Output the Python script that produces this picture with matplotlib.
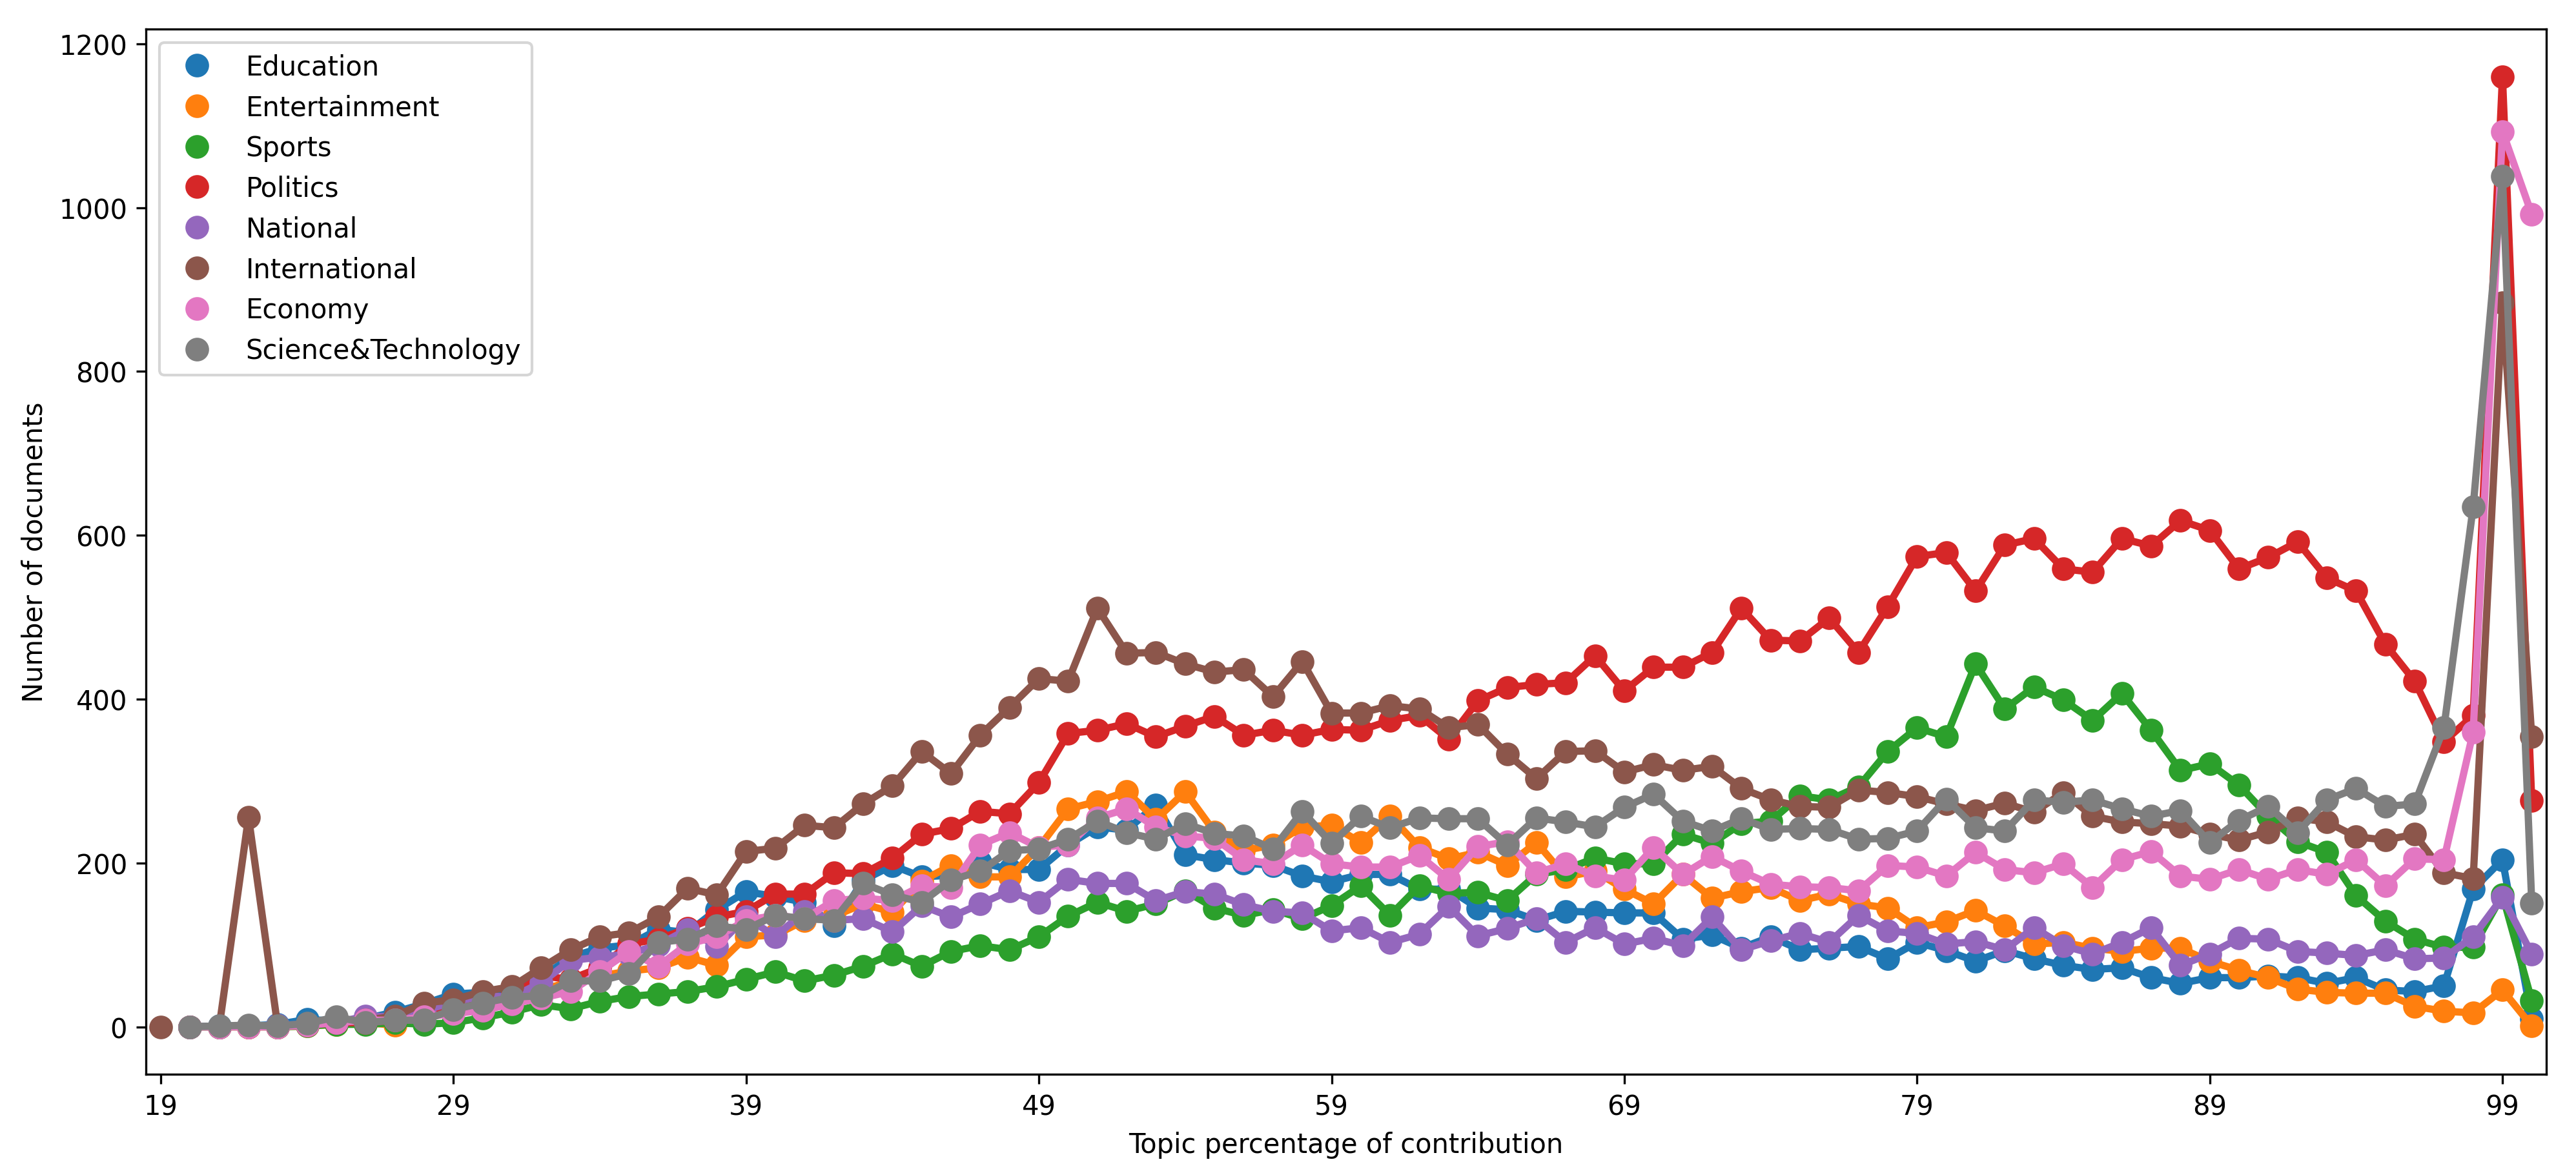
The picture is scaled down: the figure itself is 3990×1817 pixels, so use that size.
import numpy as np
import matplotlib
matplotlib.use("Agg")
import matplotlib.pyplot as plt

nan = np.nan

# topic percentage of contribution, 19 .. 100
percent = list(range(19, 101))

education = [nan, 0, 1, 1, 3, 9, 7, 10, 18, 28,
             40, 42, 45, 60, 85, 96, 100, 119, 115, 143,
             165, 159, 152, 123, 179, 197, 183, 185, 201, 192,
             192, 222, 244, 240, 271, 210, 204, 200, 197, 184,
             177, 186, 186, 168, 168, 145, 143, 130, 141, 140,
             139, 139, 107, 112, 96, 110, 94, 96, 98, 83,
             103, 93, 80, 93, 83, 75, 70, 72, 60, 53,
             60, 60, 62, 60, 53, 60, 45, 43, 50, 168,
             204, 10]
entertainment = [nan, 0, 0, 0, 0, 1, 3, 5, 2, 10,
                 20, 25, 35, 45, 55, 62, 68, 72, 85, 75,
                 110, 112, 130, 135, 150, 140, 178, 197, 183, 183,
                 219, 266, 275, 287, 253, 287, 238, 215, 222, 244,
                 246, 225, 257, 219, 205, 213, 197, 225, 183, 190,
                 168, 150, 186, 157, 165, 170, 154, 162, 150, 145,
                 121, 128, 142, 123, 101, 103, 96, 92, 96, 96,
                 80, 69, 60, 46, 42, 41, 41, 25, 19, 17,
                 45, 1]
sports = [nan, 0, 0, 0, 0, 1, 3, 3, 5, 3,
          5, 11, 18, 27, 22, 31, 37, 40, 43, 49,
          58, 67, 56, 63, 74, 89, 74, 92, 99, 94,
          110, 135, 152, 141, 150, 166, 145, 136, 143, 132,
          148, 172, 136, 172, 163, 164, 154, 186, 192, 206,
          199, 199, 235, 224, 248, 251, 282, 277, 293, 336,
          365, 354, 443, 388, 415, 399, 374, 407, 362, 313,
          321, 295, 257, 226, 213, 160, 129, 107, 97, 97,
          161, 32]
politics = [nan, 0, 0, 0, 0, 2, 5, 5, 8, 15,
            27, 32, 38, 62, 58, 72, 101, 107, 120, 134,
            141, 162, 162, 188, 187, 206, 235, 242, 263, 260,
            298, 358, 362, 370, 354, 367, 379, 356, 362, 356,
            363, 362, 374, 380, 351, 398, 414, 418, 420, 453,
            410, 439, 439, 457, 511, 472, 471, 499, 457, 513,
            574, 579, 532, 588, 596, 559, 555, 596, 587, 618,
            606, 559, 573, 592, 548, 532, 467, 422, 348, 380,
            1160, 276]
national = [nan, 0, 0, 1, 2, 3, 5, 13, 12, 20,
            30, 38, 36, 54, 81, 85, 89, 100, 119, 98,
            134, 110, 141, 130, 132, 116, 148, 134, 150, 166,
            152, 180, 175, 175, 154, 165, 162, 149, 141, 139,
            117, 121, 103, 113, 147, 111, 120, 132, 103, 121,
            101, 108, 99, 134, 94, 105, 114, 103, 136, 117,
            114, 101, 104, 94, 121, 99, 89, 103, 121, 75,
            89, 108, 107, 92, 90, 87, 94, 83, 84, 110,
            158, 89]
international = [0, nan, 0, 256, 0, 2, 5, 8, 13, 29,
                 33, 43, 49, 72, 94, 110, 115, 134, 169, 161,
                 214, 218, 246, 243, 272, 294, 336, 309, 356, 390,
                 425, 422, 511, 456, 457, 443, 433, 436, 403, 446,
                 383, 383, 392, 388, 365, 369, 333, 303, 336, 337,
                 311, 320, 313, 318, 291, 277, 269, 268, 289, 286,
                 281, 272, 264, 273, 262, 286, 257, 250, 248, 245,
                 235, 228, 238, 255, 250, 232, 228, 235, 188, 181,
                 884, 354]
economy = [nan, 0, 0, 0, 0, 2, 5, 8, 8, 12,
           16, 20, 28, 35, 43, 67, 92, 74, 101, 110,
           130, 136, 132, 154, 157, 154, 172, 170, 222, 237,
           219, 222, 255, 266, 244, 233, 230, 204, 199, 222,
           199, 195, 195, 209, 180, 220, 226, 188, 199, 184,
           179, 219, 186, 208, 190, 174, 171, 170, 166, 197,
           195, 184, 213, 192, 188, 199, 170, 204, 214, 184,
           180, 192, 180, 192, 186, 204, 172, 205, 204, 360,
           1093, 992]
science_tech = [nan, 0, 1, 2, 1, 4, 12, 5, 8, 8,
                21, 29, 36, 38, 56, 56, 65, 103, 107, 123,
                119, 136, 132, 130, 175, 161, 152, 179, 190, 215,
                217, 229, 251, 237, 229, 248, 236, 233, 217, 263,
                224, 257, 243, 255, 254, 254, 222, 255, 250, 244,
                268, 284, 251, 239, 254, 241, 242, 241, 229, 230,
                239, 278, 243, 239, 277, 274, 277, 266, 257, 264,
                225, 252, 269, 237, 277, 291, 269, 272, 365, 635,
                1038, 151]

topics = ["Education", "Entertainment", "Sports", "Politics", "National",
          "International", "Economy", "Science&Technology"]
series = [education, entertainment, sports, politics, national,
          international, economy, science_tech]
colors = ["#1f77b4", "#ff7f0e", "#2ca02c", "#d62728", "#9467bd",
          "#8c564b", "#e377c2", "#7f7f7f"]

fig = plt.figure(figsize=(13.3, 6.06), dpi=300)
ax = fig.add_axes([0.0567, 0.0841, 0.9318, 0.8906])

x = np.arange(len(percent))
lw = 2.7
for name, values, col in zip(topics, series, colors):
    ax.plot(x, values, color=col, lw=lw, marker="o", markersize=6.77,
            markeredgewidth=lw * 0.75, label=name)

ax.set_xlim(-0.5, len(percent) - 0.5)
ax.set_xticks(x[::10])
ax.set_xticklabels([str(p) for p in percent[::10]])
ax.set_yticks(range(0, 1201, 200))
ax.set_xlabel("Topic percentage of contribution")
ax.set_ylabel("Number of documents")
leg = ax.legend(loc="upper left")
for h in leg.legend_handles:
    h.set_linestyle("")

fig.savefig("out.png", dpi=300)
